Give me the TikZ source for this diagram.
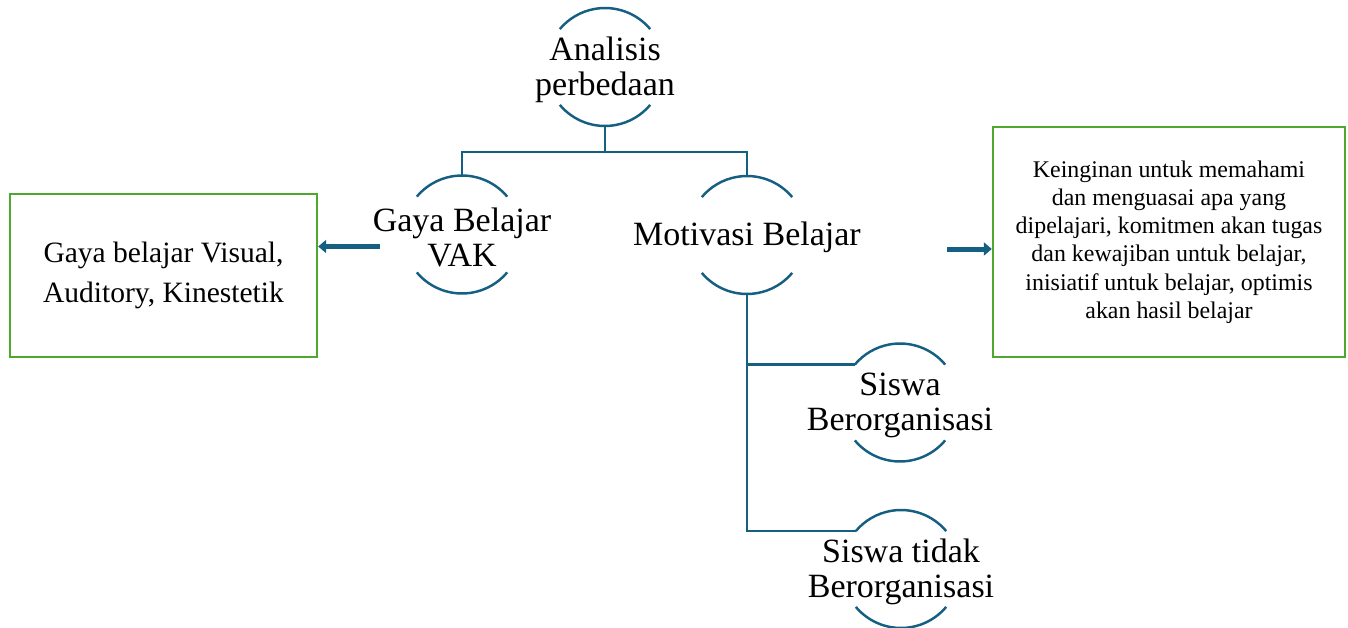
\documentclass[tikz,border=0pt]{standalone}
\usepackage{fontspec}
\setmainfont{Liberation Serif}
\usetikzlibrary{arrows.meta}
\definecolor{darkteal}{HTML}{156082}
\definecolor{boxgreen}{HTML}{4EA72E}
\tikzset{
  bub/.style={circle,minimum size=2.36cm,inner sep=0pt,outer sep=0pt},
  bubtext/.style={align=center,font=\fontsize{19.35}{19.92}\selectfont,yshift=-0.05cm},
  arcline/.style={darkteal,line width=1.4pt},
  conn/.style={darkteal,line width=1.3pt},
  greenbox/.style={draw=boxgreen,line width=1.4pt,align=center,inner sep=0pt},
  fatarrow/.style={darkteal,line width=0.1cm,-{Triangle[length=0.16cm,width=0.26cm]}}
}
\begin{document}
\begin{tikzpicture}[x=0.02cm,y=-0.02cm]
\useasboundingbox (0,0) rectangle (1348,628);
\node[bub,label={[bubtext,name=ana-t]center:{Analisis\\perbedaan}}] (ana) at (605,67) {};
\node[bub,label={[bubtext,name=gaya-t]center:{Gaya Belajar\\VAK}}] (gaya) at (462,234.5) {};
\node[bub,label={[bubtext,name=moti-t]center:{Motivasi Belajar}}] (moti) at (747,235) {};
\node[bub,label={[bubtext,name=sis-t]center:{Siswa\\Berorganisasi}}] (sis) at (900,402.5) {};
\node[bub,label={[bubtext,name=sist-t]center:{Siswa tidak\\Berorganisasi}}] (sist) at (901,569) {};
\foreach \b in {ana,gaya,moti,sis,sist}{
  \draw[arcline] (\b.40) arc[start angle=40,end angle=140,radius=1.18cm];
  \draw[arcline] (\b.220) arc[start angle=220,end angle=320,radius=1.18cm];
}
\coordinate (fork) at (605,152);
\draw[conn] (ana.south) -- (fork);
\draw[conn] (gaya.north) |- (fork) -| (moti.north);
\draw[conn] (moti.south) |- (sis.140);
\draw[conn] (moti.south) |- (sist.140);
% keterangan
\node[greenbox,minimum width=6.14cm,minimum height=3.26cm,font=\fontsize{16.8}{22.8}\selectfont] (vak) at (163.5,275.5) {Gaya belajar Visual,\\Auditory, Kinestetik};
\node[greenbox,minimum width=7.04cm,minimum height=4.6cm,font=\fontsize{13.6}{16.1}\selectfont] (ciri) at (1169,242) {Keinginan untuk memahami\\dan menguasai apa yang\\dipelajari, komitmen akan tugas\\dan kewajiban untuk belajar,\\inisiatif untuk belajar, optimis\\akan hasil belajar};
\coordinate (gaya-out) at (380,246.5);
\coordinate (moti-out) at (947,249);
\draw[fatarrow] (gaya-out) -- (vak.east |- gaya-out);
\draw[fatarrow] (moti-out) -- (ciri.west |- moti-out);
\end{tikzpicture}
\end{document}
